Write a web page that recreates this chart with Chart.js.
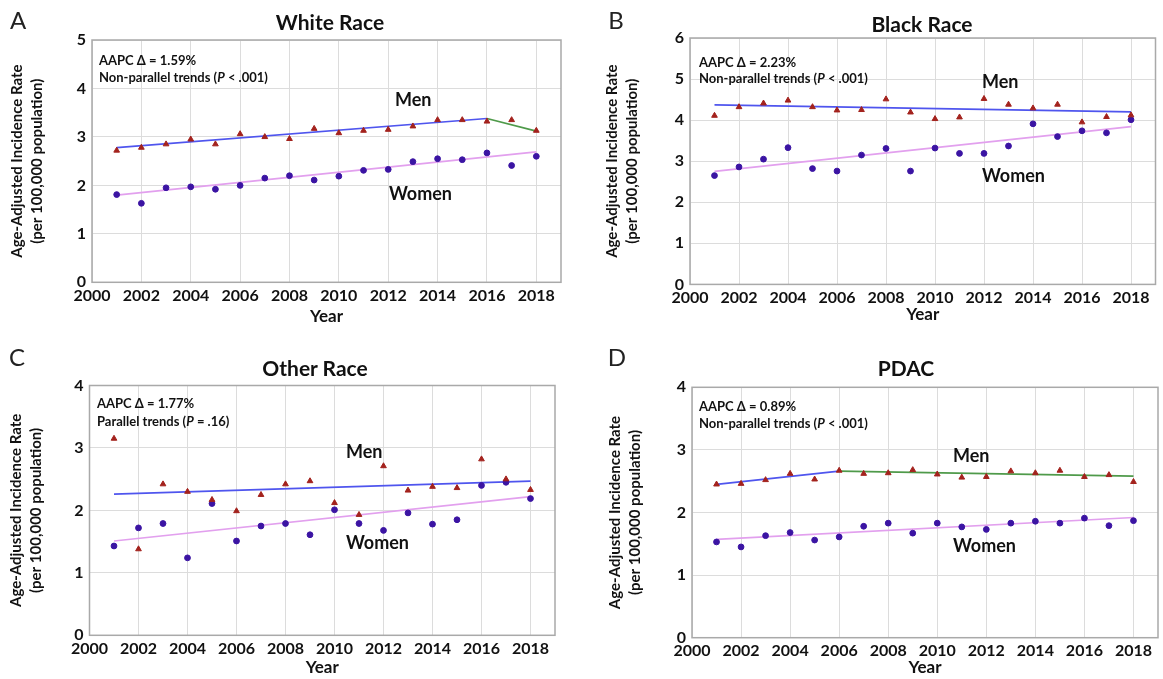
<!DOCTYPE html>
<html lang="en">
<head>
<meta charset="UTF-8">
<title>Age-Adjusted Incidence Rate by Sex</title>
<script src="https://cdn.jsdelivr.net/npm/chart.js"></script>
<style>
    body {
        margin: 0;
        background: #fff;
        font-family: Lato, "Open Sans", sans-serif;
    }

    #page {
        position: relative;
        width: 1163px;
        height: 679px;
        overflow: hidden;
    }

    canvas {
        position: absolute;
    }

    .t {
        position: absolute;
        white-space: nowrap;
        line-height: 1;
        color: #111;
        font-weight: 700;
    }

    .c { transform: translate(-50%, -50%); }
    .l { transform: translateY(-50%); }
    .title { font-size: 21px; }
    .letter { font-size: 24px; font-weight: 400; color: #222; }
    .note { font-size: 13px; }
    .sex { font-size: 18px; }
</style>
</head>
<body>
<div id="page">
    <canvas id="chartA"></canvas>
    <canvas id="chartB"></canvas>
    <canvas id="chartC"></canvas>
    <canvas id="chartD"></canvas>

    <div class="t letter c" style="left:18px; top:20px">A</div>
    <div class="t letter c" style="left:616px; top:20px">B</div>
    <div class="t letter c" style="left:17px; top:357px">C</div>
    <div class="t letter c" style="left:617px; top:357px">D</div>

    <div class="t title c" style="left:330px; top:21px">White Race</div>
    <div class="t title c" style="left:922px; top:23px">Black Race</div>
    <div class="t title c" style="left:315px; top:367px">Other Race</div>
    <div class="t title c" style="left:906px; top:367px">PDAC</div>

    <div class="t note l" style="left:99px; top:60px">AAPC Δ = 1.59%</div>
    <div class="t note l" style="left:99px; top:77px">Non-parallel trends (<i>P</i> &lt; .001)</div>
    <div class="t note l" style="left:699px; top:62px">AAPC Δ = 2.23%</div>
    <div class="t note l" style="left:699px; top:78px">Non-parallel trends (<i>P</i> &lt; .001)</div>
    <div class="t note l" style="left:97px; top:403px">AAPC Δ = 1.77%</div>
    <div class="t note l" style="left:97px; top:421px">Parallel trends (<i>P</i> = .16)</div>
    <div class="t note l" style="left:699px; top:406px">AAPC Δ = 0.89%</div>
    <div class="t note l" style="left:699px; top:423px">Non-parallel trends (<i>P</i> &lt; .001)</div>

    <div class="t sex l" style="left:395px; top:99px">Men</div>
    <div class="t sex l" style="left:389px; top:193px">Women</div>
    <div class="t sex l" style="left:982px; top:81px">Men</div>
    <div class="t sex l" style="left:982px; top:175px">Women</div>
    <div class="t sex l" style="left:346px; top:451px">Men</div>
    <div class="t sex l" style="left:346px; top:542px">Women</div>
    <div class="t sex l" style="left:953px; top:455px">Men</div>
    <div class="t sex l" style="left:953px; top:545px">Women</div>
</div>

<script>
    // data
    const years = [2001, 2002, 2003, 2004, 2005, 2006, 2007, 2008, 2009,
        2010, 2011, 2012, 2013, 2014, 2015, 2016, 2017, 2018];
    const xTicks = [2000, 2002, 2004, 2006, 2008, 2010, 2012, 2014, 2016, 2018];

    const whiteMen = [2.72, 2.78, 2.85, 2.95, 2.85, 3.06, 3.00, 2.96, 3.17,
        3.08, 3.13, 3.15, 3.22, 3.35, 3.35, 3.32, 3.35, 3.13];
    const whiteWomen = [1.81, 1.63, 1.95, 1.97, 1.92, 2.00, 2.15, 2.20, 2.11,
        2.19, 2.31, 2.33, 2.49, 2.55, 2.53, 2.67, 2.41, 2.60];
    const whiteMenFit = [[2001, 2.78], [2016, 3.38]];
    const whiteMenFit2 = [[2016, 3.38], [2018, 3.12]];
    const whiteWomenFit = [[2001, 1.80], [2018, 2.69]];

    const blackMen = [4.11, 4.32, 4.41, 4.48, 4.32, 4.24, 4.25, 4.51, 4.19,
        4.03, 4.07, 4.52, 4.38, 4.29, 4.38, 3.95, 4.08, 4.12];
    const blackWomen = [2.65, 2.86, 3.05, 3.33, 2.82, 2.76, 3.15, 3.31, 2.76,
        3.32, 3.19, 3.19, 3.37, 3.91, 3.60, 3.74, 3.69, 4.01];
    const blackMenFit = [[2001, 4.37], [2018, 4.20]];
    const blackWomenFit = [[2001, 2.75], [2018, 3.84]];

    const otherMen = [3.15, 1.38, 2.42, 2.30, 2.17, 1.99, 2.25, 2.42, 2.47,
        2.12, 1.93, 2.71, 2.32, 2.38, 2.36, 2.82, 2.50, 2.33];
    const otherWomen = [1.43, 1.72, 1.79, 1.24, 2.11, 1.51, 1.75, 1.79, 1.61,
        2.01, 1.79, 1.68, 1.96, 1.78, 1.85, 2.40, 2.45, 2.19];
    const otherMenFit = [[2001, 2.26], [2018, 2.47]];
    const otherWomenFit = [[2001, 1.51], [2018, 2.22]];

    const pdacMen = [2.45, 2.46, 2.52, 2.62, 2.53, 2.67, 2.62, 2.63, 2.68,
        2.61, 2.56, 2.57, 2.66, 2.63, 2.67, 2.57, 2.60, 2.49];
    const pdacWomen = [1.53, 1.45, 1.63, 1.68, 1.56, 1.61, 1.78, 1.83, 1.67,
        1.83, 1.77, 1.73, 1.83, 1.86, 1.83, 1.91, 1.79, 1.87];
    const pdacMenFit = [[2001, 2.45], [2006, 2.66]];
    const pdacMenFit2 = [[2006, 2.66], [2018, 2.58]];
    const pdacWomenFit = [[2001, 1.57], [2018, 1.92]];

    const yMax = [5, 6, 4, 4];

    const MEN_PT = '#a3221d';
    const WOMEN_PT = '#3b14a3';
    const BLUE = '#4f55ee';
    const GREEN = '#4f9a4a';
    const PINK = '#e2a0ee';

    Chart.defaults.font.family = 'Lato, "Open Sans", sans-serif';
    Chart.defaults.color = '#111';

    const frame = {
        id: 'frame',
        beforeDatasetsDraw(chart) {
            const { ctx, chartArea: a } = chart;
            ctx.save();
            ctx.strokeStyle = '#a9a9a9';
            ctx.lineWidth = 1.5;
            ctx.strokeRect(a.left, a.top, a.right - a.left, a.bottom - a.top);
            ctx.restore();
        }
    };

    function pts(vals) {
        return years.map((y, i) => ({ x: y, y: vals[i] }));
    }

    function seg(pairs, color) {
        return {
            data: pairs.map(p => ({ x: p[0], y: p[1] })),
            showLine: true,
            borderColor: color,
            borderWidth: 1.7,
            pointRadius: 0,
            order: 2
        };
    }

    // page boxes of each canvas and its plot area
    const panels = [
        { id: 'chartA', cx: 0, cy: 0, cw: 582, ch: 338, l: 92, t: 40, r: 561, b: 282.3, titlePad: 7, yearPad: 11,
          men: whiteMen, women: whiteWomen, fits: [seg(whiteMenFit, BLUE), seg(whiteMenFit2, GREEN), seg(whiteWomenFit, PINK)], max: yMax[0] },
        { id: 'chartB', cx: 582, cy: 0, cw: 581, ch: 338, l: 690, t: 38, r: 1155.5, b: 284.4, titlePad: 20.5, yearPad: 13,
          men: blackMen, women: blackWomen, fits: [seg(blackMenFit, BLUE), seg(blackWomenFit, PINK)], max: yMax[1] },
        { id: 'chartC', cx: 0, cy: 338, cw: 582, ch: 341, l: 89.5, t: 385.5, r: 555, b: 635.3, titlePad: 6.3, yearPad: 1,
          men: otherMen, women: otherWomen, fits: [seg(otherMenFit, BLUE), seg(otherWomenFit, PINK)], max: yMax[2] },
        { id: 'chartD', cx: 582, cy: 338, cw: 581, ch: 341, l: 692, t: 387.3, r: 1158, b: 637.7, titlePad: 23.6, yearPad: 1,
          men: pdacMen, women: pdacWomen, fits: [seg(pdacMenFit, BLUE), seg(pdacMenFit2, GREEN), seg(pdacWomenFit, PINK)], max: yMax[3] }
    ];

    panels.forEach(p => {
        const cv = document.getElementById(p.id);
        cv.width = p.cw;
        cv.height = p.ch;
        cv.style.left = p.cx + 'px';
        cv.style.top = p.cy + 'px';

        new Chart(cv.getContext('2d'), {
            type: 'scatter',
            data: {
                datasets: [
                    {
                        data: pts(p.men),
                        pointStyle: 'triangle',
                        pointRadius: 3.3,
                        backgroundColor: MEN_PT,
                        borderColor: MEN_PT,
                        borderWidth: 1,
                        order: 1
                    },
                    {
                        data: pts(p.women),
                        pointStyle: 'circle',
                        pointRadius: 2.9,
                        backgroundColor: WOMEN_PT,
                        borderColor: WOMEN_PT,
                        borderWidth: 1,
                        order: 1
                    },
                    ...p.fits
                ]
            },
            options: {
                responsive: false,
                animation: false,
                devicePixelRatio: 1,
                layout: {
                    padding: { left: 0, top: p.t - p.cy, right: p.cx + p.cw - p.r, bottom: 0 }
                },
                plugins: {
                    legend: { display: false },
                    tooltip: { enabled: false }
                },
                scales: {
                    x: {
                        type: 'linear',
                        min: 2000,
                        max: 2019,
                        afterBuildTicks: s => { s.ticks = xTicks.map(v => ({ value: v })); },
                        afterFit: s => { s.height = p.cy + p.ch - p.b; },
                        ticks: {
                            padding: 4,
                            font: { size: 16, weight: 'bold' },
                            color: '#111',
                            maxRotation: 0,
                            autoSkip: false,
                            callback: v => String(v)
                        },
                        grid: { color: '#dcdcdc', drawTicks: false },
                        border: { display: false },
                        title: {
                            display: true,
                            text: 'Year',
                            font: { size: 17, weight: 'bold' },
                            color: '#111',
                            padding: { top: 0, bottom: p.yearPad }
                        }
                    },
                    y: {
                        min: 0,
                        max: p.max,
                        afterFit: s => { s.width = p.l - p.cx; },
                        ticks: {
                            stepSize: 1,
                            padding: 6,
                            font: { size: 16, weight: 'bold' },
                            color: '#111'
                        },
                        grid: { color: '#dcdcdc', drawTicks: false },
                        border: { display: false },
                        title: {
                            display: true,
                            text: ['Age-Adjusted Incidence Rate', '(per 100,000 population)'],
                            font: { size: 15, weight: 'bold', lineHeight: 1.33 },
                            color: '#111',
                            padding: { top: p.titlePad, bottom: 0 }
                        }
                    }
                }
            },
            plugins: [frame]
        });
    });
</script>
</body>
</html>
